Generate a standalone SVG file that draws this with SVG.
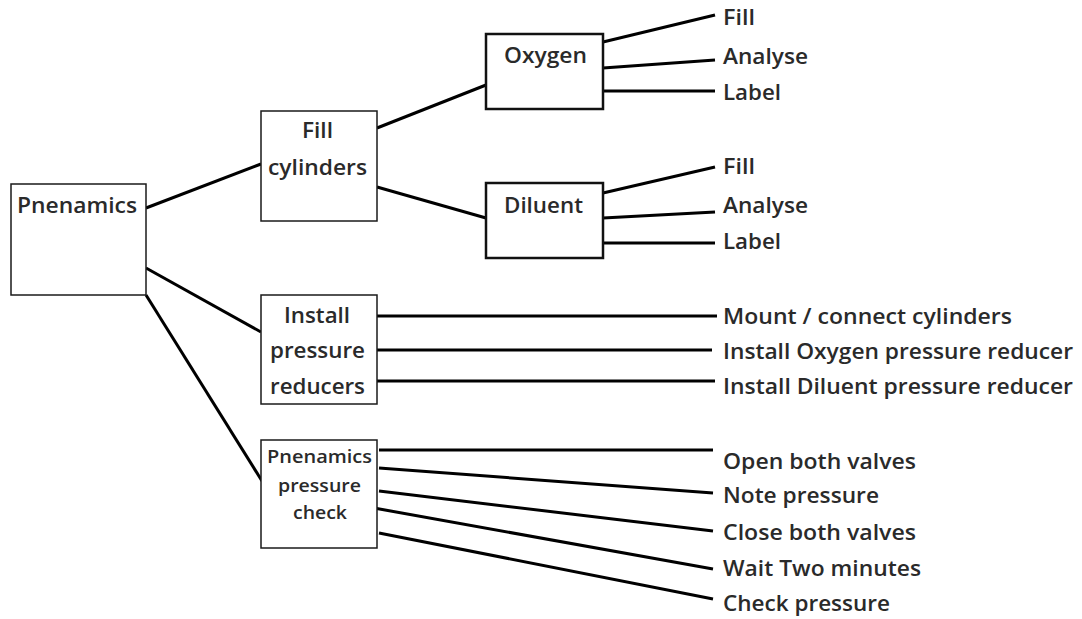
<svg xmlns="http://www.w3.org/2000/svg" width="1082" height="619" viewBox="0 0 1082 619">
  <style>
    .box { fill: #ffffff; stroke: #1a1a1a; stroke-width: 1.5; }
    .box-bold { fill: #ffffff; stroke: #111111; stroke-width: 2.5; }
    .link { stroke: #000000; stroke-width: 3; fill: none; stroke-linecap: butt; }
    text { font-family: "Open Sans", "Noto Sans", "DejaVu Sans", sans-serif; fill: #2a2a2a; font-weight: 600; }
    .lbl { font-size: 21px; }
    .small { font-size: 17.5px; }
  </style>
  <rect width="1082" height="619" fill="#ffffff"/>

  <!-- connectors -->
  <g id="connectors">
    <line class="link" x1="146" y1="208" x2="261" y2="164"/>
    <line class="link" x1="146" y1="268" x2="261" y2="332"/>
    <line class="link" x1="146" y1="295" x2="262" y2="481"/>
    <line class="link" x1="377" y1="128" x2="486" y2="85"/>
    <line class="link" x1="377" y1="187" x2="486" y2="218"/>
    <line class="link" x1="603" y1="42" x2="715" y2="15"/>
    <line class="link" x1="603" y1="68" x2="715" y2="60"/>
    <line class="link" x1="603" y1="91" x2="715" y2="91"/>
    <line class="link" x1="603" y1="193" x2="715" y2="167"/>
    <line class="link" x1="603" y1="218" x2="715" y2="212"/>
    <line class="link" x1="603" y1="243" x2="715" y2="243"/>
    <line class="link" x1="374" y1="316" x2="717" y2="316"/>
    <line class="link" x1="377" y1="350" x2="712" y2="350"/>
    <line class="link" x1="377" y1="381" x2="715" y2="381"/>
    <line class="link" x1="379" y1="450" x2="713" y2="450"/>
    <line class="link" x1="379" y1="468" x2="713" y2="493"/>
    <line class="link" x1="379" y1="491" x2="713" y2="531"/>
    <line class="link" x1="374" y1="508" x2="713" y2="569"/>
    <line class="link" x1="379" y1="533" x2="713" y2="599"/>
  </g>

  <!-- tree nodes -->
  <g id="root">
    <rect class="box" x="11" y="184" width="135" height="111"/>
    <text class="lbl" x="17" y="213" textLength="120" lengthAdjust="spacingAndGlyphs">Pnenamics</text>
  </g>
  <g id="fill-cylinders">
    <rect class="box" x="261" y="111" width="116" height="110"/>
    <text class="lbl" x="302" y="138" textLength="31" lengthAdjust="spacingAndGlyphs">Fill</text>
    <text class="lbl" x="268" y="175" textLength="99" lengthAdjust="spacingAndGlyphs">cylinders</text>
  </g>
  <g id="oxygen">
    <rect class="box-bold" x="486" y="34" width="117" height="75"/>
    <text class="lbl" x="504" y="63" textLength="83" lengthAdjust="spacingAndGlyphs">Oxygen</text>
  </g>
  <g id="diluent">
    <rect class="box-bold" x="486" y="183" width="117" height="75"/>
    <text class="lbl" x="504" y="213" textLength="79" lengthAdjust="spacingAndGlyphs">Diluent</text>
  </g>
  <g id="install-reducers">
    <rect class="box" x="261" y="295" width="116" height="109"/>
    <text class="lbl" x="284" y="323" textLength="66" lengthAdjust="spacingAndGlyphs">Install</text>
    <text class="lbl" x="270" y="358" textLength="95" lengthAdjust="spacingAndGlyphs">pressure</text>
    <text class="lbl" x="270" y="394" textLength="95" lengthAdjust="spacingAndGlyphs">reducers</text>
  </g>
  <g id="pressure-check">
    <rect class="box" x="261" y="440" width="116" height="108"/>
    <text class="small" x="267" y="463" textLength="105" lengthAdjust="spacingAndGlyphs">Pnenamics</text>
    <text class="small" x="278" y="492" textLength="83" lengthAdjust="spacingAndGlyphs">pressure</text>
    <text class="small" x="293" y="519" textLength="54" lengthAdjust="spacingAndGlyphs">check</text>
  </g>

  <!-- leaf steps -->
  <g id="oxygen-steps">
    <text class="lbl" x="723" y="25" textLength="32" lengthAdjust="spacingAndGlyphs">Fill</text>
    <text class="lbl" x="723" y="64" textLength="85" lengthAdjust="spacingAndGlyphs">Analyse</text>
    <text class="lbl" x="723" y="100" textLength="58" lengthAdjust="spacingAndGlyphs">Label</text>
  </g>
  <g id="diluent-steps">
    <text class="lbl" x="723" y="174" textLength="32" lengthAdjust="spacingAndGlyphs">Fill</text>
    <text class="lbl" x="723" y="213" textLength="85" lengthAdjust="spacingAndGlyphs">Analyse</text>
    <text class="lbl" x="723" y="249" textLength="58" lengthAdjust="spacingAndGlyphs">Label</text>
  </g>
  <g id="install-steps">
    <text class="lbl" x="723" y="324" textLength="289" lengthAdjust="spacingAndGlyphs">Mount / connect cylinders</text>
    <text class="lbl" x="723" y="359" textLength="350" lengthAdjust="spacingAndGlyphs">Install Oxygen pressure reducer</text>
    <text class="lbl" x="723" y="394" textLength="350" lengthAdjust="spacingAndGlyphs">Install Diluent pressure reducer</text>
  </g>
  <g id="check-steps">
    <text class="lbl" x="723" y="469" textLength="193" lengthAdjust="spacingAndGlyphs">Open both valves</text>
    <text class="lbl" x="723" y="503" textLength="156" lengthAdjust="spacingAndGlyphs">Note pressure</text>
    <text class="lbl" x="723" y="540" textLength="193" lengthAdjust="spacingAndGlyphs">Close both valves</text>
    <text class="lbl" x="723" y="576" textLength="198" lengthAdjust="spacingAndGlyphs">Wait Two minutes</text>
    <text class="lbl" x="723" y="611" textLength="167" lengthAdjust="spacingAndGlyphs">Check pressure</text>
  </g>
</svg>
